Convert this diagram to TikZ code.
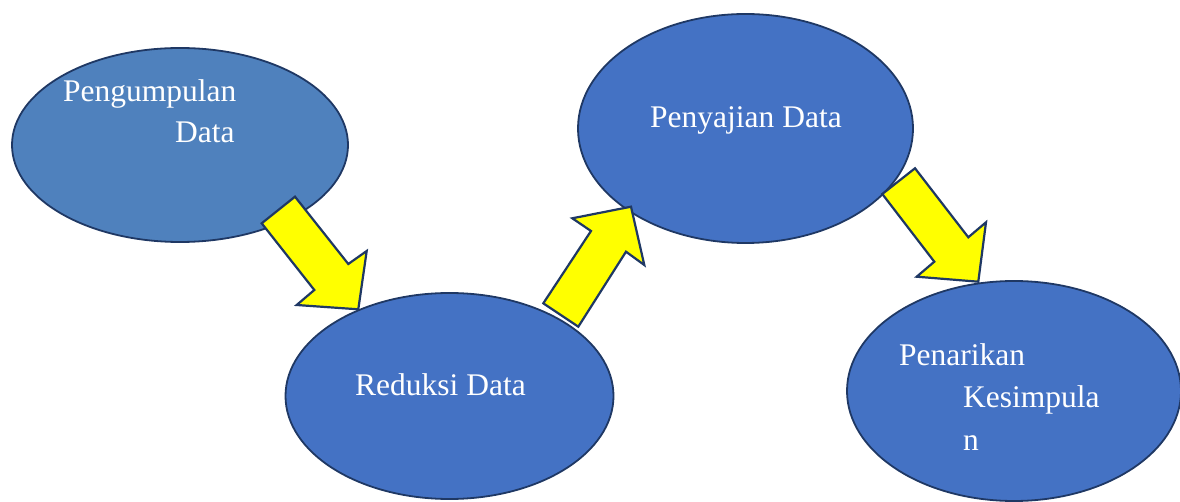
\documentclass[tikz,border=0pt]{standalone}
\usepackage{fontspec}
\setmainfont{Liberation Serif}
\usetikzlibrary{shapes.geometric}
\definecolor{blueA}{HTML}{4F81BD}
\definecolor{blueB}{HTML}{4472C4}
\definecolor{navy}{HTML}{1F3864}
\definecolor{yel}{HTML}{FFFF00}
\tikzset{
  bubble/.style={ellipse, draw=navy, line width=1.8pt, inner sep=0pt},
  lbl/.style={anchor=base west, inner sep=0pt, text=white, font=\fontsize{31.5}{36}\selectfont},
  blockarrow/.style={draw=navy, fill=yel, line width=2.2pt, line join=miter}
}
\begin{document}
\begin{tikzpicture}[x=1pt,y=-1pt]
\useasboundingbox (0,0) rectangle (1180,502);
\node[bubble, fill=blueA, minimum width=336pt, minimum height=194pt] (e1) at (180,145) {};
\node[bubble, fill=blueB, minimum width=328pt, minimum height=206pt] (e2) at (449.5,396) {};
\node[bubble, fill=blueB, minimum width=335pt, minimum height=229pt] (e3) at (745.5,128.5) {};
\node[bubble, fill=blueB, minimum width=334pt, minimum height=220pt] (e4) at (1014,391) {};
% block arrows
\draw[blockarrow] (261.7,223.3) -- (295,196.7) -- (348.3,264) -- (366.7,251) -- (358.3,309.3) -- (296.7,305) -- (314.3,290) -- cycle;
\draw[blockarrow] (543.3,303.3) -- (578.3,326.7) -- (626,251.7) -- (644.3,265) -- (631,206.7) -- (572.3,218.3) -- (591,231) -- cycle;
\draw[blockarrow] (882.3,194) -- (915,168.3) -- (968.3,237.3) -- (986,222.3) -- (978.3,281.7) -- (916.7,276.7) -- (934.3,261.7) -- cycle;
% labels
\node[lbl] (t1a) at (63,102) {Pengumpulan};
\node[lbl] (t1b) at (175,143) {Data};
\node[lbl] (t2) at (355,395) {Reduksi Data};
\node[lbl] (t3) at (650,128) {Penyajian Data};
\node[lbl] (t4a) at (899,365) {Penarikan};
\node[lbl] (t4b) at (963,407) {Kesimpula};
\node[lbl] (t4c) at (963,450) {n};
\end{tikzpicture}
\end{document}
